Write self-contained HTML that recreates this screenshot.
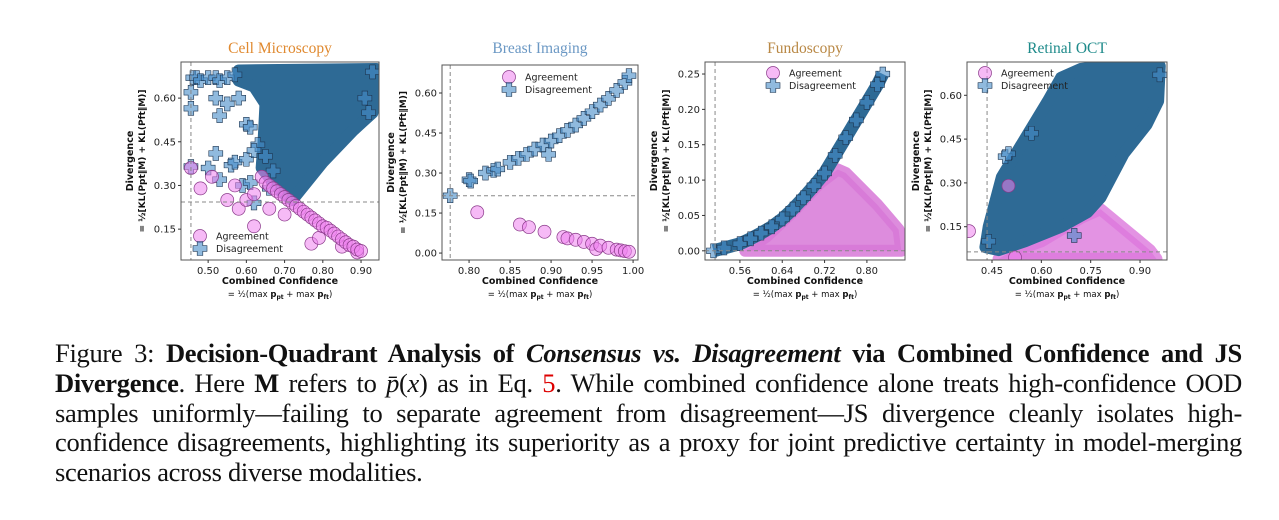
<!DOCTYPE html>
<html><head><meta charset="utf-8">
<style>
body{margin:0;background:#fff;width:1279px;height:520px;overflow:hidden;position:relative;font-family:"Liberation Sans",sans-serif}
#cap{position:absolute;left:55px;top:339px;width:1187px;font-family:"Liberation Serif",serif;font-size:26.5px;letter-spacing:-0.3px;line-height:29.8px;color:#111}
#cap .ln{display:block;white-space:nowrap;text-align:justify;text-align-last:justify}
#cap .ln.last{text-align-last:left}
#cap b{font-weight:bold}
.red{color:#d00}
</style></head><body>
<svg id="fig" width="1279" height="330" style="position:absolute;left:0;top:0"></svg>
<div id="cap"><span class="ln">Figure 3: <b>Decision-Quadrant Analysis of <i>Consensus vs. Disagreement</i> via Combined Confidence and JS</b></span><span class="ln"><b>Divergence</b>. Here <b>M</b> refers to <i>p̄</i>(<i>x</i>) as in Eq. <span class="red">5</span>. While combined confidence alone treats high-confidence OOD</span><span class="ln">samples uniformly—failing to separate agreement from disagreement—JS divergence cleanly isolates high-</span><span class="ln">confidence disagreements, highlighting its superiority as a proxy for joint predictive certainty in model-merging</span><span class="ln last">scenarios across diverse modalities.</span></div>
<script>
// ---- Panel 1: Cell Microscopy ----
const p1AgreeX=[0.455,0.48,0.51,0.55,0.57,0.58,0.60,0.62,0.62,0.66,0.70,0.77,0.79,0.85,0.89,0.64,0.65,0.66,0.67,0.68,0.69,0.70,0.71,0.72,0.73,0.74,0.75,0.76,0.77,0.78,0.79,0.80,0.81,0.82,0.83,0.84,0.85,0.86,0.87,0.88,0.89,0.90];
const p1AgreeY=[0.36,0.29,0.33,0.25,0.30,0.22,0.25,0.27,0.16,0.22,0.20,0.10,0.12,0.09,0.07,0.33,0.31,0.30,0.29,0.28,0.27,0.26,0.25,0.24,0.23,0.22,0.21,0.20,0.19,0.18,0.17,0.16,0.155,0.145,0.135,0.125,0.115,0.105,0.095,0.09,0.08,0.075];
const p1DisX=[0.46,0.47,0.48,0.50,0.52,0.53,0.55,0.57,0.455,0.455,0.52,0.53,0.55,0.58,0.60,0.61,0.63,0.52,0.56,0.57,0.60,0.62,0.59,0.61,0.50,0.53,0.455,0.62,0.65,0.66,0.67,0.93,0.92,0.91];
const p1DisY=[0.67,0.67,0.66,0.67,0.67,0.66,0.67,0.68,0.62,0.565,0.60,0.54,0.58,0.60,0.51,0.50,0.44,0.41,0.37,0.38,0.39,0.42,0.30,0.31,0.36,0.32,0.365,0.24,0.40,0.29,0.35,0.69,0.55,0.60];
const p1CloudX=[0.58,0.94,0.935,0.93,0.88,0.80,0.72,0.69,0.64,0.645,0.65,0.62,0.58];
const p1CloudY=[0.695,0.70,0.66,0.55,0.49,0.38,0.25,0.28,0.36,0.45,0.58,0.64,0.66];
// ---- Panel 2: Breast Imaging ----
const p2AgreeX=[0.81,0.862,0.873,0.892,0.915,0.92,0.93,0.94,0.95,0.955,0.96,0.97,0.98,0.985,0.99,0.995];
const p2AgreeY=[0.153,0.107,0.097,0.08,0.06,0.055,0.05,0.042,0.035,0.015,0.028,0.02,0.013,0.01,0.007,0.005];
const p2DisX=[0.777,0.80,0.802,0.82,0.83,0.835,0.85,0.86,0.87,0.88,0.89,0.897,0.90,0.91,0.92,0.93,0.94,0.95,0.96,0.97,0.98,0.99,0.995];
const p2DisY=[0.215,0.275,0.27,0.30,0.31,0.315,0.34,0.355,0.37,0.39,0.405,0.37,0.42,0.44,0.46,0.48,0.505,0.53,0.555,0.58,0.61,0.64,0.665];
// ---- Panel 3: Fundoscopy ----
const p3AgreeCloudX=[0.57,0.865,0.86,0.82,0.76,0.745,0.71,0.66,0.61];
const p3AgreeCloudY=[0.0,0.0,0.03,0.065,0.11,0.115,0.095,0.055,0.02];
const p3DisX=[0.51,0.53,0.56,0.58,0.60,0.62,0.64,0.66,0.68,0.70,0.72,0.74,0.76,0.78,0.80,0.82,0.83];
const p3DisY=[0.0,0.004,0.01,0.017,0.025,0.034,0.045,0.059,0.075,0.092,0.11,0.135,0.16,0.185,0.21,0.235,0.25];
// ---- Panel 4: Retinal OCT ----
const p4AgreeCloudX=[0.47,0.95,0.93,0.78,0.72,0.60,0.50];
const p4AgreeCloudY=[0.04,0.04,0.07,0.21,0.18,0.10,0.06];
const p4DisCloudX=[0.43,0.44,0.48,0.55,0.62,0.66,0.72,0.80,0.96,0.955,0.92,0.85,0.78,0.74,0.66,0.55,0.47];
const p4DisCloudY=[0.08,0.15,0.32,0.45,0.58,0.66,0.69,0.70,0.70,0.58,0.50,0.40,0.25,0.20,0.15,0.10,0.07];
const p4AgreeX=[0.38,0.50,0.52];
const p4AgreeY=[0.135,0.29,0.045];
const p4DisX=[0.49,0.50,0.57,0.70,0.96,0.44];
const p4DisY=[0.39,0.40,0.47,0.12,0.67,0.10];

const NS='http://www.w3.org/2000/svg';
const svg=document.getElementById('fig');
function mk(tag,attrs,parent){const e=document.createElementNS(NS,tag);for(const k in attrs)e.setAttribute(k,attrs[k]);(parent||svg).appendChild(e);return e;}
const AG_FILL='rgba(238,130,238,0.55)',AG_EDGE='#8a3a8a',DS_FILL='rgba(70,140,200,0.6)',DS_EDGE='#1d3550';
function plusPath(x,y){const a=7,b=2.8;return `M${x-b},${y-a}h${2*b}v${a-b}h${a-b}v${2*b}h${-(a-b)}v${a-b}h${-2*b}v${-(a-b)}h${-(a-b)}v${-2*b}h${a-b}z`;}
function panel(cfg){
  const g=mk('g',{});
  
  
  const {L,R,T,B,x0,x1,y0,y1}=cfg;
  const sx=v=>L+(v-x0)/(x1-x0)*(R-L), sy=v=>B-(v-y0)/(y1-y0)*(B-T);
  const clip='c'+cfg.name;
  const cp=mk('clipPath',{id:clip},g);mk('rect',{x:L,y:T,width:R-L,height:B-T},cp);
  const d=mk('g',{'clip-path':`url(#${clip})`},g);
  const poly=(xs,ys,fill,sw,nm)=>{const p=mk('polygon',{points:xs.map((v,i)=>sx(v)+','+sy(ys[i])).join(' '),fill:fill,stroke:fill,'stroke-width':sw,'stroke-linejoin':'round'},d);};
  const circ=(xs,ys,nm)=>xs.forEach((v,i)=>{const c=mk('circle',{cx:sx(v),cy:sy(ys[i]),r:6.5,fill:AG_FILL,stroke:AG_EDGE,'stroke-width':0.7},d);});
  const plus=(xs,ys,nm)=>xs.forEach((v,i)=>{const c=mk('path',{d:plusPath(sx(v),sy(ys[i])),fill:DS_FILL,stroke:DS_EDGE,'stroke-width':0.6},d);});
  cfg.draw(poly,circ,plus,sx,sy,d);
  mk('line',{x1:sx(cfg.vline),x2:sx(cfg.vline),y1:T,y2:B,stroke:'#888','stroke-dasharray':'4,3','stroke-width':1},d);
  mk('line',{x1:L,x2:R,y1:sy(cfg.hline),y2:sy(cfg.hline),stroke:'#888','stroke-dasharray':'4,3','stroke-width':1},d);
  const fr=mk('rect',{x:L,y:T,width:R-L,height:B-T,fill:'none',stroke:'#555','stroke-width':1},g);
  
  cfg.xt.forEach(v=>{const x=sx(v);mk('line',{x1:x,x2:x,y1:B,y2:B+3,stroke:'#333'},g);const t=mk('text',{x:x,y:B+14,'font-size':10,'text-anchor':'middle',fill:'#222','font-family':'DejaVu Sans, sans-serif'},g);t.textContent=v.toFixed(2);});
  cfg.yt.forEach(v=>{const y=sy(v);mk('line',{x1:L-3,x2:L,y1:y,y2:y,stroke:'#333'},g);const t=mk('text',{x:L-5,y:y+3.5,'font-size':10,'text-anchor':'end',fill:'#222','font-family':'DejaVu Sans, sans-serif'},g);t.textContent=v.toFixed(2);});
  const cx=(L+R)/2;
  const ti=mk('text',{x:cx,y:53,'font-size':15.5,'text-anchor':'middle',fill:cfg.color,'font-family':'Liberation Serif, serif'},g);ti.textContent=cfg.title;
  const xl=mk('text',{x:cx,y:B+24,'font-size':9.5,'font-weight':'bold','text-anchor':'middle',fill:'#111','font-family':'DejaVu Sans, sans-serif'},g);xl.textContent='Combined Confidence';
  const xl2=mk('text',{x:cx,y:B+37,'font-size':8.5,'text-anchor':'middle',fill:'#111','font-family':'DejaVu Sans, sans-serif'},g);xl2.innerHTML='= ½(max <tspan font-weight="bold">p</tspan><tspan font-size="6" dy="2" font-weight="bold">pt</tspan><tspan dy="-2"> + max </tspan><tspan font-weight="bold">p</tspan><tspan font-size="6" dy="2" font-weight="bold">ft</tspan><tspan dy="-2">)</tspan>';
  const ym=(T+B)/2, yx=L-cfg.ylab;
  const yl=mk('text',{x:yx-12,y:ym,'font-size':9.5,'font-weight':'bold','text-anchor':'middle',fill:'#111','font-family':'DejaVu Sans, sans-serif',transform:`rotate(-90 ${yx-12} ${ym})`},g);yl.textContent='Divergence';
  const yl2=mk('text',{x:yx,y:ym,'font-size':9,'font-weight':'bold','text-anchor':'middle',fill:'#111','font-family':'DejaVu Sans, sans-serif',transform:`rotate(-90 ${yx} ${ym})`},g);yl2.textContent='= ½[KL(Ppt‖M)  +  KL(Pft‖M)]';
  const [lx,ly]=cfg.leg;
  const lc=mk('circle',{cx:lx,cy:ly,r:6.5,fill:AG_FILL,stroke:AG_EDGE,'stroke-width':0.7},g);
  const lp=mk('path',{d:plusPath(lx,ly+12.5),fill:DS_FILL,stroke:DS_EDGE,'stroke-width':0.6},g);
  const t1=mk('text',{x:lx+16,y:ly+3.5,'font-size':9.5,fill:'#222','font-family':'DejaVu Sans, sans-serif'},g);t1.textContent='Agreement';
  const t2=mk('text',{x:lx+16,y:ly+16,'font-size':9.5,fill:'#222','font-family':'DejaVu Sans, sans-serif'},g);t2.textContent='Disagreement';
}
panel({name:'cell-microscopy-panel',title:'Cell Microscopy',color:'#e0892f',L:181,R:379,T:62,B:260,x0:0.429,x1:0.947,y0:0.044,y1:0.724,vline:0.455,hline:0.243,
  xt:[0.5,0.6,0.7,0.8,0.9],yt:[0.15,0.30,0.45,0.60],leg:[200,236],ylab:36,
  draw:(poly,circ,plus)=>{poly(p1CloudX,p1CloudY,'#2e6a95',12,'disagreement-cloud');plus(p1DisX,p1DisY,'disagreement-point');circ(p1AgreeX,p1AgreeY,'agreement-point');}});
panel({name:'breast-imaging-panel',title:'Breast Imaging',color:'#6b98c4',L:442,R:638,T:65,B:260,x0:0.767,x1:1.006,y0:-0.026,y1:0.705,vline:0.777,hline:0.215,
  xt:[0.80,0.85,0.90,0.95,1.00],yt:[0,0.15,0.30,0.45,0.60],leg:[509,77],ylab:36,
  draw:(poly,circ,plus)=>{plus(p2DisX,p2DisY,'disagreement-point');circ(p2AgreeX,p2AgreeY,'agreement-point');}});
panel({name:'fundoscopy-panel',title:'Fundoscopy',color:'#b98845',L:705,R:905,T:62,B:260,x0:0.494,x1:0.872,y0:-0.013,y1:0.267,vline:0.513,hline:0.0,
  xt:[0.56,0.64,0.72,0.80],yt:[0,0.05,0.10,0.15,0.20,0.25],leg:[773,73],ylab:36,
  draw:(poly,circ,plus,sx,sy,d)=>{poly(p3AgreeCloudX,p3AgreeCloudY,'rgba(215,120,215,0.85)',12,'agreement-cloud');
    const pl=mk('polyline',{points:p3DisX.map((v,i)=>sx(v)+','+sy(p3DisY[i])).join(' '),fill:'none',stroke:'#2e6a95','stroke-width':13,'stroke-linejoin':'round'},d);
    plus(p3DisX,p3DisY,'disagreement-point');}});
panel({name:'retinal-oct-panel',title:'Retinal OCT',color:'#1d8a8a',L:967,R:1167,T:62,B:260,x0:0.374,x1:0.982,y0:0.036,y1:0.714,vline:0.435,hline:0.064,
  xt:[0.45,0.60,0.75,0.90],yt:[0.15,0.30,0.45,0.60],leg:[985,73],ylab:36,
  draw:(poly,circ,plus)=>{poly(p4AgreeCloudX,p4AgreeCloudY,'rgba(220,120,220,0.8)',12,'agreement-cloud');poly(p4DisCloudX,p4DisCloudY,'#2e6a95',12,'disagreement-cloud');plus(p4DisX,p4DisY,'disagreement-point');circ(p4AgreeX,p4AgreeY,'agreement-point');}});
</script>
</body></html>
